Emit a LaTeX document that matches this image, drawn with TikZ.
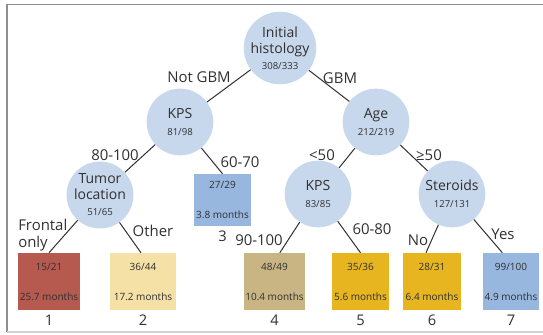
\documentclass[tikz,border=0pt]{standalone}
\usepackage{fontspec}
\setmainfont{Open Sans}
\usepackage{tikz}
\usetikzlibrary{positioning}

\definecolor{splitblue}{HTML}{C7D7EC}
\definecolor{leafred}{HTML}{B65A50}
\definecolor{leafcream}{HTML}{F5E0A6}
\definecolor{leafblue}{HTML}{98B7DF}
\definecolor{leaftan}{HTML}{C9B584}
\definecolor{leafgold}{HTML}{E6B520}
\definecolor{inkgray}{HTML}{303030}
\definecolor{framegray}{HTML}{8E8E8E}

\newcommand{\splitn}[1]{{\fontsize{7.2}{8.6}\selectfont #1}}
\newcommand{\leaftext}[2]{#1\\[13.5pt]#2}

\begin{document}
\begin{tikzpicture}[x=0.75pt, y=-0.75pt,
    split/.style={circle, fill=splitblue, minimum size=50pt, inner sep=0pt,
        align=center, text=inkgray, font=\fontsize{10.5}{12}\selectfont},
    leaf/.style={rectangle, minimum height=42.75pt, inner sep=0pt,
        align=center, text=inkgray, font=\fontsize{7.5}{9}\selectfont},
    edge/.style={draw=inkgray, line width=0.75pt},
    branch/.style={font=\fontsize{11.2}{12.5}\selectfont, text=inkgray, inner sep=0pt},
    group/.style={font=\fontsize{11}{12}\selectfont, text=inkgray, inner sep=0pt}]

    \useasboundingbox (0,0) rectangle (543,335);

    %Frame
    \draw[framegray, line width=1.1pt] (543,4.5) -- (7,4.5) -- (7,332);
    \draw[framegray!40, line width=0.8pt] (7,332) -- (543,332);

    %Splits
    \node[split] (root) at (280,48) {Initial\\histology\\\splitn{308/333}};
    \node[split] (kps1) at (180,122) {KPS\\[1pt]\splitn{81/98}};
    \node[split] (age) at (376,122) {Age\\[1pt]\splitn{212/219}};
    \node[split] (tumor) at (100,195) {Tumor\\location\\\splitn{51/65}};
    \node[split] (kps2) at (318,194) {KPS\\[1pt]\splitn{83/85}};
    \node[split] (ster) at (452,194) {Steroids\\[1pt]\splitn{127/131}};

    %Leaves
    \node[leaf, fill=leafred, minimum width=46.5pt] (b1) at (49,281.5) {\leaftext{15/21}{25.7 months}};
    \node[leaf, fill=leafcream, minimum width=49.5pt] (b2) at (143,281.5) {\leaftext{36/44}{17.2 months}};
    \node[leaf, fill=leafblue, minimum width=42.75pt, minimum height=39pt] (b3) at (222.5,200) {\leaftext{27/29}{3.8 months}};
    \node[leaf, fill=leaftan, minimum width=45.75pt] (b4) at (274.5,281.5) {\leaftext{48/49}{10.4 months}};
    \node[leaf, fill=leafgold, minimum width=42.75pt] (b5) at (360.5,281.5) {\leaftext{35/36}{5.6 months}};
    \node[leaf, fill=leafgold, minimum width=43.5pt] (b6) at (432,281.5) {\leaftext{28/31}{6.4 months}};
    \node[leaf, fill=leafblue, minimum width=42pt] (b7) at (511,281.5) {\leaftext{99/100}{4.9 months}};

    %Group numbers
    \foreach \b/\n in {b1/1, b2/2, b3/3, b4/4, b5/5, b6/6, b7/7}
    \node[group, below=3pt of \b] (n\n) {\n};

    %Connectors (ends a little off the box middles, as in the figure)
    \foreach \a/\b/\s in {root/kps1/0, root/age/0, kps1/tumor/0, age/kps2/0, age/ster/0,
        kps1/b3.north/0, tumor/b1.north/0, tumor/b2.north/-1.5,
        kps2/b4.north/4, kps2/b5.north/0, ster/b6.north/-4.5, ster/b7.north/-6.5}
    \draw[edge] (\a) -- ([xshift=\s pt]\b);

    %Branch labels
    \foreach \x/\y/\descr [count=\i] in {199/77/Not GBM, 340/78/GBM, 115/155/80-100, 240/162/60-70,
        322/155/<50, 429/155/≥50, 153/231/Other, 259/240/90-100, 372/229/60-80, 418/240/No, 503/234/Yes}
    \node[branch] (lab\i) at (\x,\y) {\descr};
    \node[branch, anchor=west, align=left] (lab0) at (18,235) {Frontal\\only};

\end{tikzpicture}
\end{document}
